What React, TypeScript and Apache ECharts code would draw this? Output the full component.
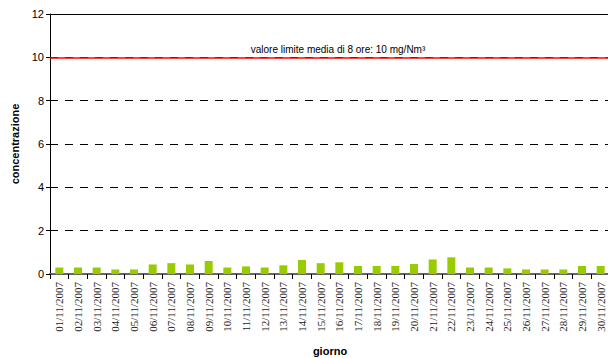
import React, { useEffect, useRef } from "react";
import * as echarts from "echarts";

const days: string[] = [
  "01/11/2007", "02/11/2007", "03/11/2007", "04/11/2007", "05/11/2007",
  "06/11/2007", "07/11/2007", "08/11/2007", "09/11/2007", "10/11/2007",
  "11/11/2007", "12/11/2007", "13/11/2007", "14/11/2007", "15/11/2007",
  "16/11/2007", "17/11/2007", "18/11/2007", "19/11/2007", "20/11/2007",
  "21/11/2007", "22/11/2007", "23/11/2007", "24/11/2007", "25/11/2007",
  "26/11/2007", "27/11/2007", "28/11/2007", "29/11/2007", "30/11/2007",
];

const concentrations: number[] = [
  0.3, 0.3, 0.3, 0.21, 0.21, 0.44, 0.5, 0.44, 0.6, 0.3,
  0.35, 0.3, 0.4, 0.65, 0.5, 0.54, 0.37, 0.37, 0.37, 0.46,
  0.67, 0.77, 0.3, 0.3, 0.26, 0.21, 0.21, 0.21, 0.37, 0.37,
];

const limitValue = 10;
const limitLabel = "valore limite media di 8 ore: 10 mg/Nm³";
const yMin = 0;
const yMax = 12;
const yStep = 2;

export default function App() {
  const ref = useRef<HTMLDivElement>(null);
  useEffect(() => {
    if (!ref.current) return;
    const chart = echarts.init(ref.current, null, { renderer: "svg" });
    chart.setOption({
      animation: false,
      backgroundColor: "#ffffff",
      grid: { left: 50, top: 14, right: -2, bottom: 84, outerBoundsMode: "none", containLabel: false },
      xAxis: [
        {
          type: "category",
          data: days,
          name: "giorno",
          nameLocation: "middle",
          nameGap: 71,
          nameTextStyle: { fontFamily: "Arial, 'Liberation Sans', sans-serif", fontWeight: "bold", fontSize: 11, color: "#000" },
          axisLine: { lineStyle: { color: "#666666", width: 2 } },
          axisTick: { show: true, alignWithLabel: false, length: 5, lineStyle: { color: "#000", width: 1 } },
          axisLabel: {
            rotate: 90,
            interval: 0,
            margin: 8,
            fontFamily: "'Liberation Serif', 'DejaVu Serif', serif",
            fontSize: 11,
            color: "#222",
          },
        },
        {
          type: "category",
          data: days,
          position: "top",
          axisLine: { lineStyle: { color: "#000", width: 1 } },
          axisTick: { show: false },
          axisLabel: { show: false },
        },
      ],
      yAxis: {
        type: "value",
        min: yMin,
        max: yMax,
        interval: yStep,
        name: "concentrazione",
        nameLocation: "middle",
        nameGap: 30,
        nameTextStyle: { fontFamily: "Arial, 'Liberation Sans', sans-serif", fontWeight: "bold", fontSize: 11, color: "#000" },
        axisLine: { show: true, lineStyle: { color: "#000", width: 1 } },
        axisTick: { show: true, length: 4, lineStyle: { color: "#000" } },
        axisLabel: { fontFamily: "Arial, 'Liberation Sans', sans-serif", fontSize: 11, color: "#000", margin: 6 },
        splitLine: { show: true, lineStyle: { color: "#000", type: [8, 7], width: 1 } },
      },
      series: [
        {
          type: "bar",
          data: concentrations,
          barWidth: 8,
          itemStyle: { color: "#99cc00" },
          markLine: {
            silent: true,
            symbol: ["none", "none"],
            lineStyle: { color: "#ff0000", type: "solid", width: 1.5 },
            label: {
              show: true,
              position: "insideMiddleTop",
              formatter: limitLabel,
              fontFamily: "Arial, 'Liberation Sans', sans-serif",
              fontSize: 10,
              color: "#000",
              distance: 3,
              offset: [8, 0],
            },
            data: [{ yAxis: limitValue }],
          },
        },
      ],
    });
    return () => chart.dispose();
  }, []);
  return (
    <div
      ref={ref}
      style={{ position: "fixed", left: 0, top: 0, width: 608, height: 358 }}
    />
  );
}
